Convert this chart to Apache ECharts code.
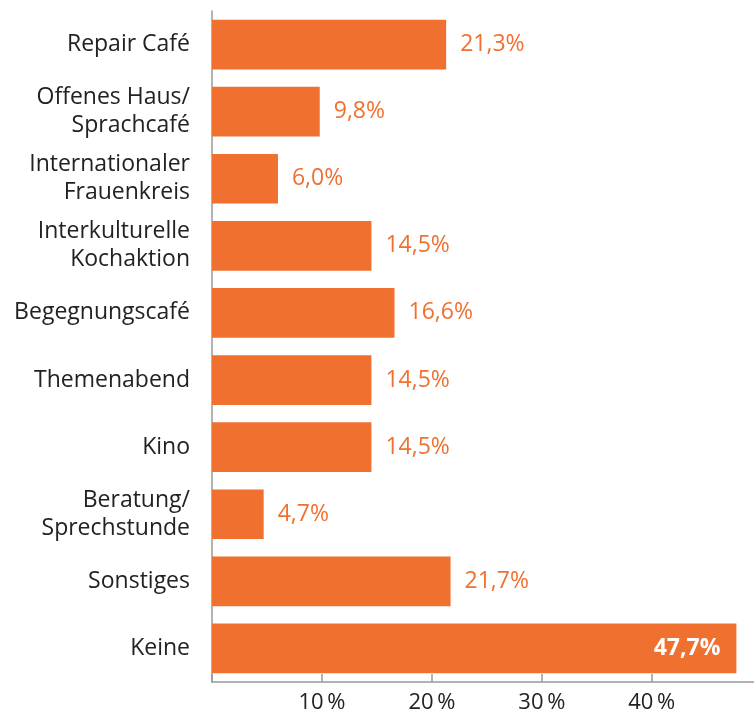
<!DOCTYPE html>
<html>
<head>
<meta charset="utf-8">
<script src="https://cdn.jsdelivr.net/npm/echarts@6/dist/echarts.min.js"></script>
<style>
  html, body { margin: 0; padding: 0; background: #fff; }
  #chart { width: 754px; height: 715px; }
</style>
</head>
<body>
<div id="chart"></div>
<script>
// Angebote und Anteil der Nennungen
const categories = ['Repair Café', 'Offenes Haus/\nSprachcafé', 'Internationaler\nFrauenkreis',
  'Interkulturelle\nKochaktion', 'Begegnungscafé', 'Themenabend', 'Kino',
  'Beratung/\nSprechstunde', 'Sonstiges', 'Keine'];
const values = [21.3, 9.8, 6.0, 14.5, 16.6, 14.5, 14.5, 4.7, 21.7, 47.7];
const tickValues = [10, 20, 30, 40];

const orange = '#f07030';
const fmt = v => v.toFixed(1).replace('.', ',') + '%';

const chart = echarts.init(document.getElementById('chart'));
chart.setOption({
  animation: false,
  textStyle: { fontFamily: 'Open Sans' },
  grid: { left: 212, right: 0, top: 11, bottom: 33 },
  xAxis: {
    type: 'value',
    min: 0,
    max: 49.3,
    interval: 10,
    axisLine: { show: true, lineStyle: { color: '#9a9a9a', width: 1.5 } },
    axisTick: { show: true, inside: true, length: 8, lineStyle: { color: '#9a9a9a', width: 1.5 } },
    splitLine: { show: false },
    axisLabel: {
      color: '#222',
      fontSize: 22,
      margin: 10,
      showMaxLabel: false,
      formatter: v => tickValues.includes(v) ? v + '\u2009%' : ''
    }
  },
  yAxis: {
    type: 'category',
    data: categories,
    inverse: true,
    axisLine: { show: true, lineStyle: { color: '#9a9a9a', width: 1.5 } },
    axisTick: { show: false },
    axisLabel: { color: '#222', fontSize: 23, lineHeight: 28, margin: 22, align: 'right' }
  },
  series: [{
    type: 'bar',
    data: values.map((v, i) => i === values.length - 1
      ? { value: v, label: { position: 'insideRight', color: '#fff', fontWeight: 'bold', distance: 16 } }
      : v),
    barCategoryGap: '26%',
    itemStyle: { color: orange },
    label: {
      show: true,
      position: 'right',
      distance: 14,
      color: orange,
      fontSize: 23,
      formatter: p => fmt(p.value)
    }
  }]
});
</script>
</body>
</html>
